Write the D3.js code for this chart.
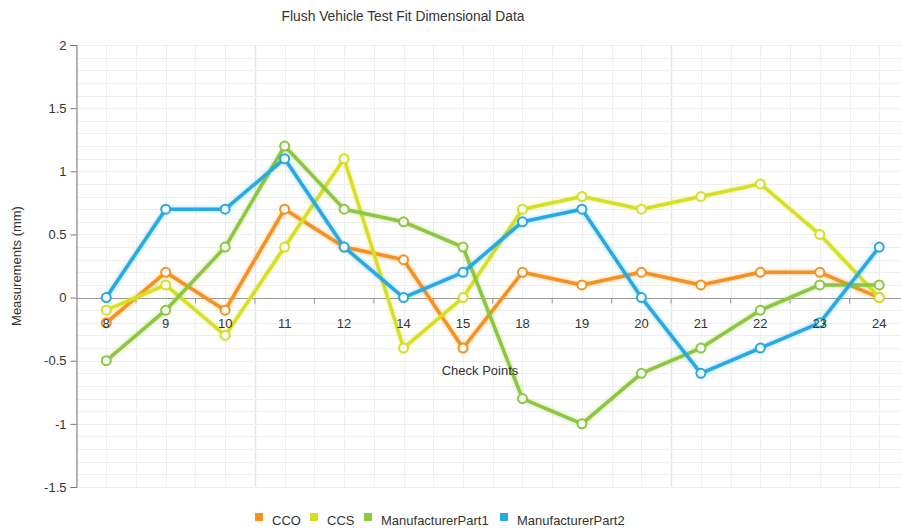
<!DOCTYPE html>
<html>
<head>
<meta charset="utf-8">
<script src="https://cdn.jsdelivr.net/npm/d3@7"></script>
<style>
  body { margin: 0; background: #fff; }
  svg { display: block; font-family: "Liberation Sans", Arial, sans-serif; }
</style>
</head>
<body>
<div id="chart"></div>
<script>
// check points on the x axis
var checkPoints = ["8", "9", "10", "11", "12", "14", "15", "18", "19", "20", "21", "22", "23", "24"];

// measurements per series (mm)
var cco   = [-0.2, 0.2, -0.1, 0.7, 0.4, 0.3, -0.4, 0.2, 0.1, 0.2, 0.1, 0.2, 0.2, 0.0];
var ccs   = [-0.1, 0.1, -0.3, 0.4, 1.1, -0.4, 0.0, 0.7, 0.8, 0.7, 0.8, 0.9, 0.5, 0.0];
var part1 = [-0.5, -0.1, 0.4, 1.2, 0.7, 0.6, 0.4, -0.8, -1.0, -0.6, -0.4, -0.1, 0.1, 0.1];
var part2 = [0.0, 0.7, 0.7, 1.1, 0.4, 0.0, 0.2, 0.6, 0.7, 0.0, -0.6, -0.4, -0.2, 0.4];

var seriesNames = ["CCO", "CCS", "ManufacturerPart1", "ManufacturerPart2"];
var yTicks = [-1.5, -1, -0.5, 0, 0.5, 1, 1.5, 2];

var series = [
  {name: "CCO", values: cco, color: "#f7901e"},
  {name: "CCS", values: ccs, color: "#d7df23"},
  {name: "ManufacturerPart1", values: part1, color: "#8dc63f"},
  {name: "ManufacturerPart2", values: part2, color: "#27aae1"}
];

var W = 901, H = 532;
var plotLeft = 76.5, plotTop = 45, plotRight = 909, plotBottom = 487;

var svg = d3.select("#chart").append("svg")
  .attr("width", W)
  .attr("height", H);

var x = d3.scalePoint()
  .domain(checkPoints)
  .range([plotLeft, plotRight])
  .padding(0.5);

var y = d3.scaleLinear()
  .domain([-1.5, 2])
  .range([plotBottom, plotTop]);

var step = x.step();

// grid - vertical lines at band edges and centres
var vLines = [];
checkPoints.forEach(function(c, i) {
  vLines.push(x(c) - step / 2);
  vLines.push(x(c));
});
vLines.push(plotRight);

svg.append("g").selectAll("line")
  .data(vLines)
  .enter().append("line")
  .attr("x1", function(d) { return Math.round(d) + 0.5; })
  .attr("x2", function(d) { return Math.round(d) + 0.5; })
  .attr("y1", plotTop)
  .attr("y2", plotBottom)
  .attr("stroke", function(d, i) { return (i == 6 || i == 20) ? "#e4e4e4" : "#eeeeee"; })
  .attr("stroke-width", function(d, i) { return (i == 6 || i == 20) ? 1.5 : 1; });

// grid - horizontal lines every 0.1
var hLines = d3.range(-15, 21).map(function(d) { return d / 10; });
svg.append("g").selectAll("line")
  .data(hLines)
  .enter().append("line")
  .attr("x1", plotLeft)
  .attr("x2", plotRight)
  .attr("y1", function(d) { return Math.round(y(d)) + 0.5; })
  .attr("y2", function(d) { return Math.round(y(d)) + 0.5; })
  .attr("stroke", "#eeeeee");

// y axis
var yAxis = d3.axisLeft(y)
  .tickValues(yTicks)
  .tickSize(6)
  .tickFormat(function(d) { return d; });

var gy = svg.append("g")
  .attr("transform", "translate(" + plotLeft + ",0)")
  .call(yAxis);
gy.select(".domain").attr("stroke", "#777");
gy.selectAll(".tick line").attr("stroke", "#777");
gy.selectAll(".tick text")
  .attr("fill", "#333")
  .style("font-size", "13px")
  .style("font-family", "'Liberation Sans', Arial, sans-serif")
  .attr("x", -10);

// x axis along zero
var y0 = Math.round(y(0)) + 0.5;
svg.append("line")
  .attr("x1", plotLeft).attr("x2", plotRight)
  .attr("y1", y0).attr("y2", y0)
  .attr("stroke", "#999");

svg.append("g").selectAll("line")
  .data(checkPoints)
  .enter().append("line")
  .attr("x1", function(d) { return x(d) + step / 2; })
  .attr("x2", function(d) { return x(d) + step / 2; })
  .attr("y1", y0)
  .attr("y2", y0 + 5)
  .attr("stroke", "#999");

// series lines
var line = d3.line()
  .x(function(d, i) { return x(checkPoints[i]); })
  .y(function(d) { return y(d); });

var defs = svg.append("defs");
defs.append("filter").attr("id", "glow")
  .attr("x", "-5%").attr("y", "-5%").attr("width", "110%").attr("height", "110%")
  .append("feGaussianBlur").attr("stdDeviation", 1.5);

series.forEach(function(s) {
  var g = svg.append("g");
  g.append("path")
    .datum(s.values)
    .attr("d", line)
    .attr("fill", "none")
    .attr("stroke", s.color)
    .attr("stroke-width", 5.5)
    .attr("opacity", 0.3)
    .attr("filter", "url(#glow)");
  g.append("path")
    .datum(s.values)
    .attr("d", line)
    .attr("fill", "none")
    .attr("stroke", s.color)
    .attr("stroke-width", 3.5)
    .attr("stroke-linejoin", "round");
  g.selectAll("circle")
    .data(s.values)
    .enter().append("circle")
    .attr("cx", function(d, i) { return x(checkPoints[i]); })
    .attr("cy", function(d) { return y(d); })
    .attr("r", 4.5)
    .attr("fill", "#f4faf6")
    .attr("stroke", s.color)
    .attr("stroke-width", 2);
});

// x tick labels
svg.append("g").selectAll("text")
  .data(checkPoints)
  .enter().append("text")
  .attr("x", function(d) { return x(d); })
  .attr("y", y0 + 29)
  .attr("text-anchor", "middle")
  .attr("fill", "#333")
  .style("font-size", "13px")
  .text(function(d) { return d; });

// axis titles
svg.append("text")
  .attr("x", 480)
  .attr("y", 375)
  .attr("text-anchor", "middle")
  .attr("fill", "#333")
  .style("font-size", "13px")
  .text("Check Points");

svg.append("text")
  .attr("transform", "translate(21," + ((plotTop + plotBottom) / 2) + ") rotate(-90)")
  .attr("text-anchor", "middle")
  .attr("fill", "#333")
  .style("font-size", "13px")
  .text("Measurements (mm)");

// chart title
svg.append("text")
  .attr("x", 403)
  .attr("y", 21)
  .attr("text-anchor", "middle")
  .attr("fill", "#333")
  .style("font-size", "13.8px")
  .text("Flush Vehicle Test Fit Dimensional Data");

// legend
var legendX = [255, 310, 364, 500];
var legend = svg.append("g").selectAll("g")
  .data(series)
  .enter().append("g")
  .attr("transform", function(d, i) { return "translate(" + legendX[i] + ",513)"; });

legend.append("rect")
  .attr("width", 8)
  .attr("height", 8)
  .attr("fill", function(d) { return d.color; });

legend.append("text")
  .attr("x", 17)
  .attr("y", 12)
  .attr("fill", "#333")
  .style("font-size", "13px")
  .text(function(d, i) { return seriesNames[i]; });
</script>
</body>
</html>
